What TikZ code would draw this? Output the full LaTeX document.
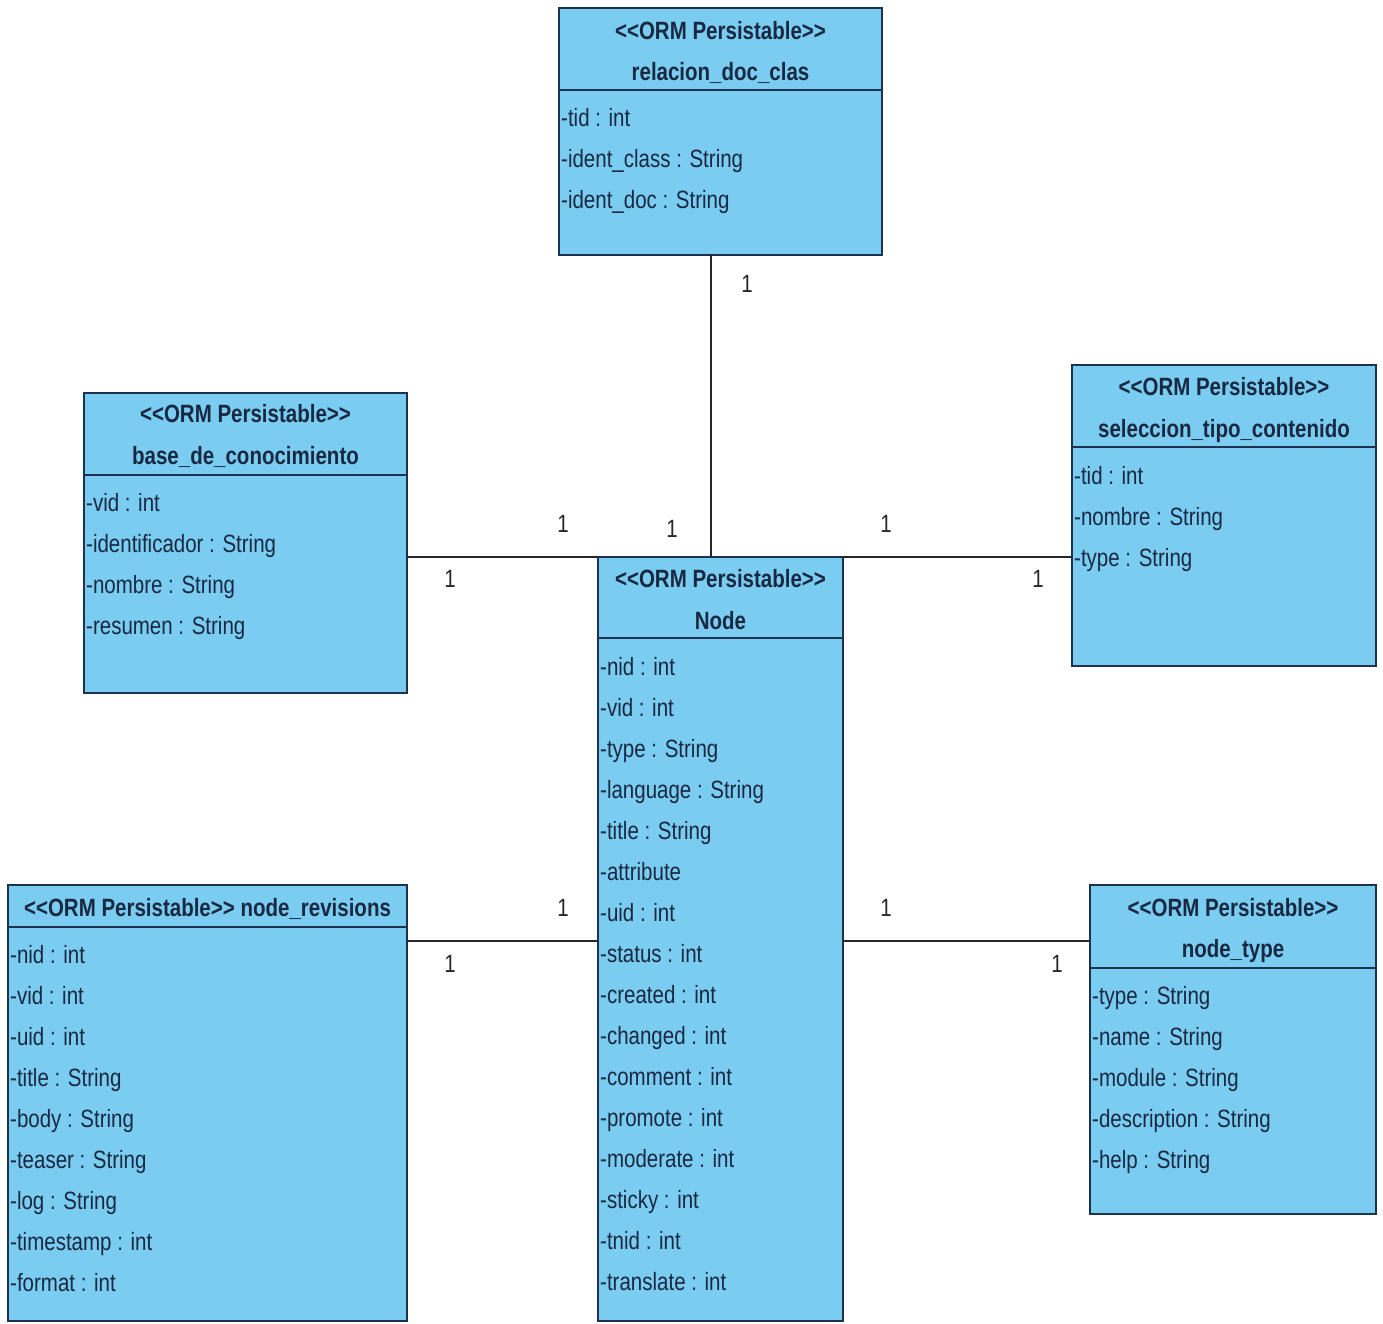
\documentclass[tikz,border=0pt]{standalone}
\usepackage{fontspec}
\setmainfont{Liberation Sans}[FakeStretch=0.82]
\usetikzlibrary{fit}
\definecolor{umlfill}{RGB}{122,204,240}
\definecolor{umlline}{RGB}{30,50,80}
\definecolor{umltext}{RGB}{25,40,65}
\definecolor{multtext}{RGB}{40,40,40}
\newcommand\stereo{<{}<ORM Persistable>{}>}
\begin{document}
\begin{tikzpicture}[x=1pt,y=-1pt,
  box/.style={draw=umlline, fill=umlfill, line width=2pt, inner sep=0pt, outer sep=0pt},
  divider/.style={draw=umlline, line width=2pt},
  hd/.style={font=\fontsize{25}{30}\selectfont\bfseries, text=umltext, inner sep=0pt, anchor=base},
  attr/.style={font=\fontsize{25}{30}\selectfont, text=umltext, inner sep=0pt, anchor=base west},
  mult/.style={font=\fontsize{25}{30}\selectfont, text=multtext, inner sep=0pt, anchor=base},
  link/.style={draw=black!85, line width=1.6pt}]
\useasboundingbox[fill=white] (0,0) rectangle (1383,1324);

% class box: name, left, top, right, bottom, divider height
\newcommand\classbox[6]{%
  \node[box, fit={(#2,#3) (#4,#5)}] (#1) {};
  \draw[divider] (#2,#6) -- (#4,#6);}

% relacion_doc_clas
\classbox{rel}{559}{8}{882}{255}{90}
\node[hd] (relS) at (720.5,40) {\stereo};
\node[hd] (relN) at (720.5,81) {relacion\_doc\_clas};
\foreach \t [count=\i from 0] in {-tid : int,-ident\_class : String,-ident\_doc : String}
  \node[attr] (relA\i) at (561,127+41*\i) {\t};

% base_de_conocimiento
\classbox{base}{84}{393}{407}{693}{475}
\node[hd] (baseS) at (245.5,422) {\stereo};
\node[hd] (baseN) at (245.5,464) {base\_de\_conocimiento};
\foreach \t [count=\i from 0] in {-vid : int,-identificador : String,-nombre : String,-resumen : String}
  \node[attr] (baseA\i) at (86,511+41*\i) {\t};

% seleccion_tipo_contenido
\classbox{sel}{1072}{365}{1376}{666}{447}
\node[hd] (selS) at (1224,395) {\stereo};
\node[hd] (selN) at (1224,437) {seleccion\_tipo\_contenido};
\foreach \t [count=\i from 0] in {-tid : int,-nombre : String,-type : String}
  \node[attr] (selA\i) at (1074,484+41*\i) {\t};

% Node
\classbox{nd}{598}{557}{843}{1321}{638}
\node[hd] (ndS) at (720.5,587) {\stereo};
\node[hd] (ndN) at (720.5,629) {Node};
\foreach \t [count=\i from 0] in {-nid : int,-vid : int,-type : String,-language : String,-title : String,-attribute,-uid : int,-status : int,-created : int,-changed : int,-comment : int,-promote : int,-moderate : int,-sticky : int,-tnid : int,-translate : int}
  \node[attr] (ndA\i) at (600,675+41*\i) {\t};

% node_revisions
\classbox{rev}{8}{885}{407}{1321}{927}
\node[hd] (revN) at (207.5,916) {\stereo{} node\_revisions};
\foreach \t [count=\i from 0] in {-nid : int,-vid : int,-uid : int,-title : String,-body : String,-teaser : String,-log : String,-timestamp : int,-format : int}
  \node[attr] (revA\i) at (10,963+41*\i) {\t};

% node_type
\classbox{typ}{1090}{885}{1376}{1214}{968}
\node[hd] (typS) at (1233,916) {\stereo};
\node[hd] (typN) at (1233,957) {node\_type};
\foreach \t [count=\i from 0] in {-type : String,-name : String,-module : String,-description : String,-help : String}
  \node[attr] (typA\i) at (1092,1004+41*\i) {\t};

% association heights
\coordinate (rowTop) at (0,557);
\coordinate (rowLow) at (0,941);

% associations
\draw[link] ([xshift=-9.5pt]rel.south) -- ([xshift=-9.5pt]nd.north);
\draw[link] (base.east |- rowTop) -- (nd.north west);
\draw[link] (nd.north east) -- (sel.west |- rowTop);
\draw[link] (rev.east |- rowLow) -- (nd.west |- rowLow);
\draw[link] (nd.east |- rowLow) -- (typ.west |- rowLow);

% multiplicities
\node[mult] (m1) at (747,292) {1};
\node[mult] (m2) at (672,537) {1};
\node[mult] (m3) at (563,532) {1};
\node[mult] (m4) at (450,587) {1};
\node[mult] (m5) at (886,532) {1};
\node[mult] (m6) at (1038,587) {1};
\node[mult] (m7) at (563,916) {1};
\node[mult] (m8) at (450,972) {1};
\node[mult] (m9) at (886,916) {1};
\node[mult] (m10) at (1057,972) {1};
\end{tikzpicture}
\end{document}
